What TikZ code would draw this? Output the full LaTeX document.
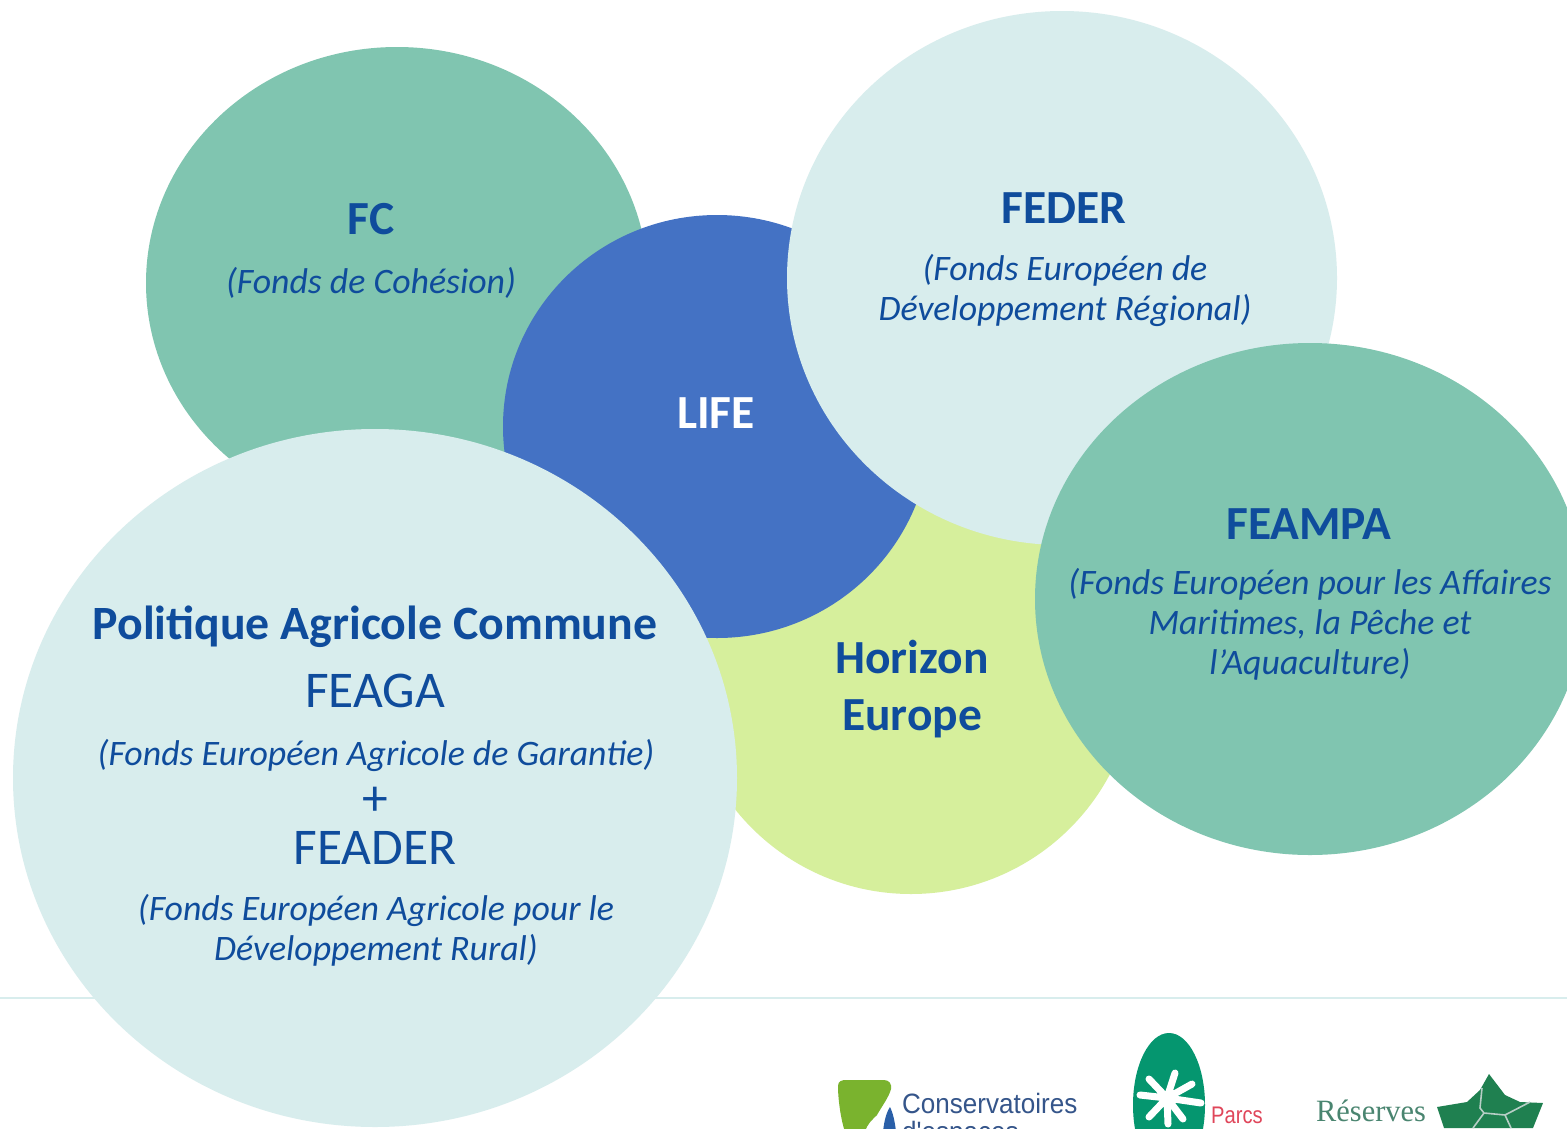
\documentclass[tikz,border=0pt]{standalone}
\usepackage{fontspec}
\setmainfont{Carlito}
\newfontfamily\serifl{Liberation Serif}
\newfontfamily\sansn{Liberation Sans}
\definecolor{tealc}{HTML}{80C5B0}
\definecolor{palec}{HTML}{D8EDED}
\definecolor{lifec}{HTML}{4472C4}
\definecolor{limec}{HTML}{D6EF9C}
\definecolor{inkc}{HTML}{0F4C9C}
\definecolor{logog}{HTML}{05966F}
\definecolor{logod}{HTML}{1F8050}
\definecolor{logot}{HTML}{4A8570}
\definecolor{logol}{HTML}{7AB32E}
\definecolor{logob}{HTML}{2A5FA8}
\definecolor{logoc}{HTML}{35558A}
\definecolor{logor}{HTML}{E0465A}
\tikzset{
  blob/.style={draw=none},
  lbl/.style={inner sep=0pt,outer sep=0pt,align=center,text=inkc,anchor=center},
  ttl/.style={lbl,font=\fontsize{#1}{#1}\selectfont\bfseries},
  sub/.style={lbl,font=\fontsize{35.8}{40}\selectfont\itshape},
  big/.style={lbl,font=\fontsize{51.5}{51.5}\selectfont},
  logotxt/.style={inner sep=0pt,anchor=west},
}
\begin{document}
\begin{tikzpicture}[x=1pt,y=-1pt]
\useasboundingbox (0,0) rectangle (1567,1128);
\clip (0,0) rectangle (1567,1128);
\fill[white] (0,0) rectangle (1567,1128);
\coordinate (ruleL) at (0,998);
\coordinate (ruleR) at (1567,998);
\draw[palec,line width=1.2pt] (ruleL) -- (ruleR);
\fill[tealc,blob] (397,283) ellipse [x radius=251,y radius=236];
\fill[limec,blob] (911,669) ellipse [x radius=225,y radius=225];
\fill[lifec,blob] (717,426.5) ellipse [x radius=214,y radius=211.5];
\fill[palec,blob] (1062,278) ellipse [x radius=275,y radius=267];
\fill[tealc,blob] (1310,599) ellipse [x radius=275,y radius=256];
\fill[palec,blob] (375,778) ellipse [x radius=362,y radius=349];

\node[ttl=47.5] (fc) at (371,219) {FC};
\node[sub] (fcs) at (371,283) {(Fonds de Cohésion)};
\node[ttl=47.5,text=white] (life) at (716,413) {LIFE};
\node[ttl=47.5] (feder) at (1064,208) {FEDER};
\node[sub] (feders) at (1065,290) {(Fonds Européen de\\Développement Régional)};
\node[ttl=47.5] (feampa) at (1309,524) {FEAMPA};
\node[sub] (feampas) at (1310,624) {(Fonds Européen pour les Affaires\\Maritimes, la Pêche et\\l’Aquaculture)};
\node[lbl,font=\fontsize{47.5}{57}\selectfont\bfseries] (hor) at (912,689) {Horizon\\Europe};
\node[ttl=47.8] (pac) at (375,627) {Politique Agricole Commune};
\node[big] (feaga) at (375,691) {FEAGA};
\node[sub] (feagas) at (376,755) {(Fonds Européen Agricole de Garantie)};
\node[big] (plus) at (375,801) {+};
\node[big] (feader) at (375,848) {FEADER};
\node[sub] (feaders) at (376,930) {(Fonds Européen Agricole pour le\\Développement Rural)};

% logos
\fill[logol] (838,1086) .. controls (838,1081) and (842,1080) .. (846,1080) -- (884,1080) .. controls (889,1080) and (892,1084) .. (891,1089) .. controls (889,1097) and (882,1106) .. (877,1115) .. controls (872,1120) and (867,1124) .. (865,1132) -- (845,1132) .. controls (841,1120) and (838,1100) .. (838,1086) -- cycle;
\fill[logob] (890,1107) .. controls (886,1113) and (884,1122) .. (883,1132) -- (896,1132) .. controls (895,1122) and (893,1113) .. (890,1107) -- cycle;
\node[logotxt,text=logoc,font=\sansn\fontsize{28}{28}\selectfont,xscale=.93] (cons) at (902,1103) {Conservatoires};
\node[logotxt,text=logoc,font=\sansn\fontsize{28}{28}\selectfont,xscale=.93] (desp) at (902,1134) {d'espaces};

\fill[logog] (1169,1105) ellipse [x radius=36,y radius=72];
\coordinate (star) at (1167,1098);
\draw[white,line width=7pt,line cap=round] (star) -- (1175,1073) (star) -- (1149,1079) (star) -- (1192,1084) (star) -- (1140,1095) (star) -- (1201,1103) (star) -- (1149,1117) (star) -- (1168,1124) (star) -- (1183,1119);
\node[logotxt,text=logor,font=\sansn\fontsize{24}{24}\selectfont,xscale=.84] (parcs) at (1211,1115) {Parcs};

\node[logotxt,text=logot,font=\serifl\fontsize{31}{31}\selectfont,xscale=.98] (res) at (1316,1111) {Réserves};
\node[logotxt,text=logot,font=\serifl\fontsize{31}{31}\selectfont,xscale=.98] (nat) at (1316,1143) {Naturelles};
\fill[logod] (1489,1074) -- (1505,1095) -- (1520,1102) -- (1543,1103) -- (1533,1128) -- (1444,1128) -- (1437,1107) -- (1467,1102) -- (1480,1090) -- cycle;
\draw[logot!40!white,line width=1.6pt] (1482,1088) -- (1480,1108) -- (1484,1113) -- (1505,1115) -- (1530,1102) (1505,1115) -- (1511,1128) (1484,1113) -- (1473,1128);
\end{tikzpicture}
\end{document}
